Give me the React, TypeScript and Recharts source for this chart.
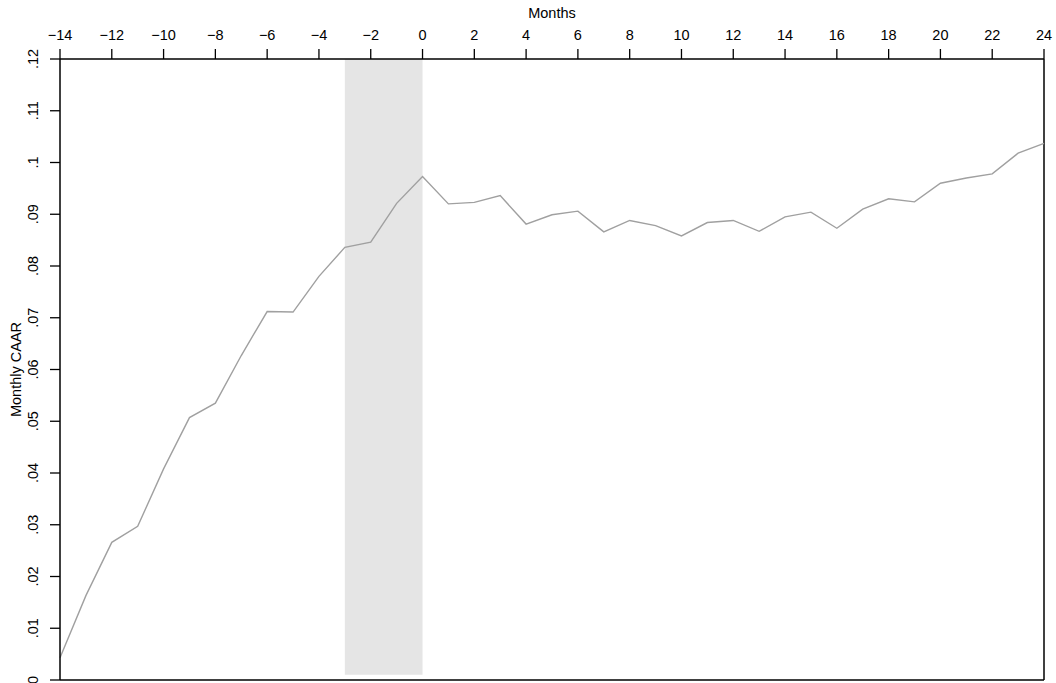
import { ComposedChart, Line, XAxis, YAxis, ReferenceArea, ReferenceLine } from 'recharts'

const months = [-14, -13, -12, -11, -10, -9, -8, -7, -6, -5, -4, -3, -2, -1, 0, 1, 2, 3, 4, 5, 6, 7, 8, 9, 10, 11, 12, 13, 14, 15, 16, 17, 18, 19, 20, 21, 22, 23, 24]
const caar = [
  0.0043, 0.0163, 0.0266, 0.0297, 0.0408, 0.0507, 0.0535, 0.0627, 0.0712, 0.0711,
  0.0780, 0.0836, 0.0846, 0.0921, 0.0973, 0.0920, 0.0923, 0.0936, 0.0881, 0.0899,
  0.0906, 0.0866, 0.0888, 0.0878, 0.0858, 0.0884, 0.0888, 0.0867, 0.0895, 0.0904,
  0.0873, 0.0910, 0.0930, 0.0924, 0.0960, 0.0970, 0.0978, 0.1018, 0.1037,
]
const xTicks = [-14, -12, -10, -8, -6, -4, -2, 0, 2, 4, 6, 8, 10, 12, 14, 16, 18, 20, 22, 24]
const yTicks = [0, 0.01, 0.02, 0.03, 0.04, 0.05, 0.06, 0.07, 0.08, 0.09, 0.1, 0.11, 0.12]
const shadeX = [-3, 0]
const shadeY = [0.001, 0.12]

const data = months.map((m, i) => ({ month: m, caar: caar[i] }))

const font = 'Liberation Sans, Arial, Helvetica, sans-serif'

const fmtX = (v: number) => (v < 0 ? '\u2212' + Math.abs(v) : String(v))
const fmtY = (v: number) => {
  if (v === 0) return '0'
  return v.toFixed(2).replace(/^0/, '').replace(/0$/, '')
}

const YTick = (props: any) => {
  const { y, payload } = props
  return (
    <text
      x={0}
      y={0}
      transform={`translate(33, ${y}) rotate(-90)`}
      textAnchor="middle"
      dominantBaseline="central"
      fontSize={14.5}
      fontFamily={font}
      fill="#000"
    >
      {fmtY(payload.value)}
    </text>
  )
}

const XTick = (props: any) => {
  const { x, payload } = props
  return (
    <text x={x} y={35} textAnchor="middle" dominantBaseline="central" fontSize={14.5} fontFamily={font} fill="#000">
      {fmtX(payload.value)}
    </text>
  )
}

export default function App() {
  return (
    <div style={{ position: 'absolute', left: 0, top: 0, background: '#fff' }}>
      <ComposedChart width={1056} height={683} data={data} margin={{ top: 0, right: 12, bottom: 3, left: 0 }}>
        <ReferenceArea
          x1={shadeX[0]}
          x2={shadeX[1]}
          y1={shadeY[0]}
          y2={shadeY[1]}
          fill="#e5e5e5"
          fillOpacity={1}
          stroke="none"
        />
        <XAxis
          dataKey="month"
          type="number"
          orientation="top"
          domain={[-14, 24]}
          ticks={xTicks}
          interval={0}
          height={59}
          tickSize={10}
          tick={<XTick />}
          tickLine={{ stroke: '#000', strokeWidth: 1.3 }}
          axisLine={{ stroke: '#000', strokeWidth: 1.5 }}
          label={{ value: 'Months', position: 'insideTop', offset: 8, style: { fontSize: 14.5, fontFamily: font, fill: '#000' } }}
        />
        <YAxis
          type="number"
          domain={[0, 0.12]}
          ticks={yTicks}
          interval={0}
          width={60}
          tickSize={10}
          tick={<YTick />}
          tickLine={{ stroke: '#000', strokeWidth: 1.3 }}
          axisLine={{ stroke: '#000', strokeWidth: 1.5 }}
          label={{ value: 'Monthly CAAR', angle: -90, position: 'insideLeft', offset: 16, style: { fontSize: 14.5, fontFamily: font, fill: '#000', textAnchor: 'middle' } }}
        />
        <ReferenceLine x={24} stroke="#000" strokeWidth={1.5} />
        <ReferenceLine y={0} stroke="#000" strokeWidth={1.5} />
        <Line
          type="linear"
          dataKey="caar"
          stroke="#a0a0a0"
          strokeWidth={1.4}
          dot={false}
          isAnimationActive={false}
        />
      </ComposedChart>
    </div>
  )
}
